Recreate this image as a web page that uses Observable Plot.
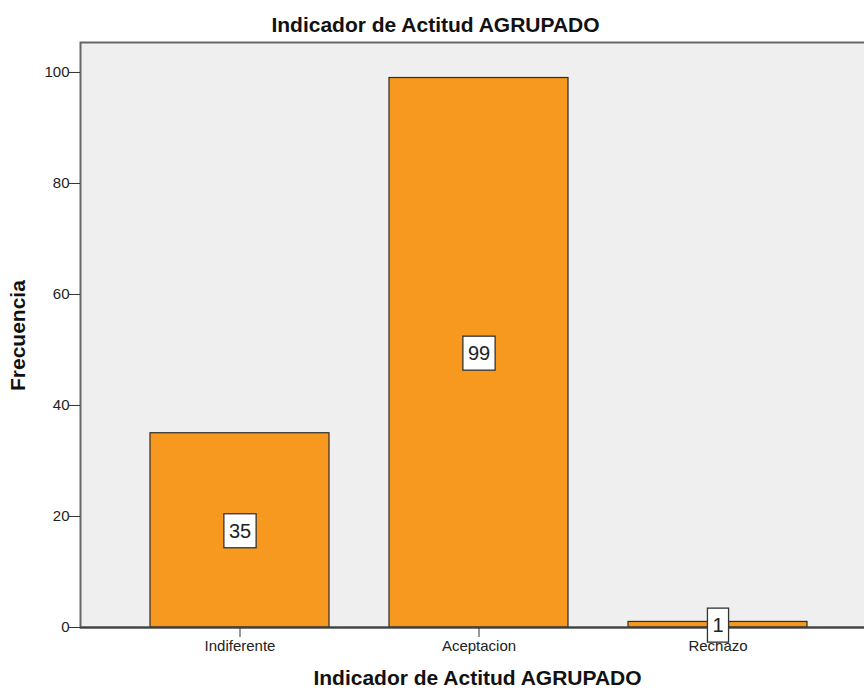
<!DOCTYPE html>
<html>
<head>
<meta charset="utf-8">
<script src="https://cdn.jsdelivr.net/npm/d3@7"></script>
<script src="https://cdn.jsdelivr.net/npm/@observablehq/plot@0.6"></script>
<style>
  html, body { margin: 0; padding: 0; background: #fff; }
  svg { display: block; }
</style>
</head>
<body>
<div id="chart"></div>
<script>
const categories = ["Indiferente", "Aceptacion", "Rechazo"];
const counts = [35, 99, 1];
const yTicks = [0, 20, 40, 60, 80, 100];
const title = "Indicador de Actitud AGRUPADO";
const xLabel = "Indicador de Actitud AGRUPADO";
const yLabel = "Frecuencia";

const data = categories.map((c, i) => ({ cat: c, n: counts[i] }));
const font = "'Liberation Sans', Arial, sans-serif";

const chart = Plot.plot({
  width: 864,
  height: 691,
  marginLeft: 80,
  marginRight: 0,
  marginTop: 42,
  marginBottom: 64,
  style: { fontFamily: font, fontSize: "15px", background: "#fff", color: "#222" },
  x: { domain: categories, range: [120, 837], paddingInner: 0.25, paddingOuter: 0.125, align: 0.5, label: null },
  y: { domain: [0, 105.4], label: null },
  marks: [
    Plot.frame({ fill: "#efefef", stroke: "#666", strokeWidth: 2, insetRight: -6 }),
    Plot.barY(data, { x: "cat", y: "n", fill: "#f7991f", stroke: "#2b2b2b", strokeWidth: 1.2 }),
    Plot.ruleY([0], { stroke: "#404040", strokeWidth: 2 }),
    Plot.axisY({ ticks: yTicks, tickSize: 11, tickPadding: 0, stroke: "#333", fontSize: 15, label: null }),
    Plot.axisX({ tickSize: 10, tickPadding: 3, stroke: "#333", fontSize: 15, label: null }),
    Plot.text(data, {
      x: "cat", y: (d) => d.n / 2, text: (d) => String(d.n),
      fontSize: 20, fill: "#222", dy: 1
    }),
    Plot.text([title], { frameAnchor: "top", dy: -25, dx: -37, fontSize: 21, fontWeight: "bold", fill: "#111" }),
    Plot.text([xLabel], { frameAnchor: "bottom", dy: 57, dx: 5, fontSize: 21, fontWeight: "bold", fill: "#111" }),
    Plot.text([yLabel], { frameAnchor: "left", dx: -62, rotate: -90, fontSize: 21, fontWeight: "bold", fill: "#111", dy: 56 })
  ]
});

document.getElementById("chart").appendChild(chart);

// white boxes behind value labels (first text mark group)
const labelGroup = chart.querySelectorAll('g[aria-label="text"]')[0];
if (labelGroup) {
  labelGroup.querySelectorAll("text").forEach((t) => {
    const b = t.getBBox();
    const tr = t.getAttribute("transform");
    const r = document.createElementNS("http://www.w3.org/2000/svg", "rect");
    r.setAttribute("x", b.x - 5);
    r.setAttribute("y", b.y - 6);
    r.setAttribute("width", b.width + 10);
    r.setAttribute("height", b.height + 12);
    r.setAttribute("fill", "#fff");
    r.setAttribute("stroke", "#333");
    r.setAttribute("stroke-width", "1.3");
    if (tr) r.setAttribute("transform", tr);
    t.parentNode.insertBefore(r, t);
  });
}
</script>
</body>
</html>
